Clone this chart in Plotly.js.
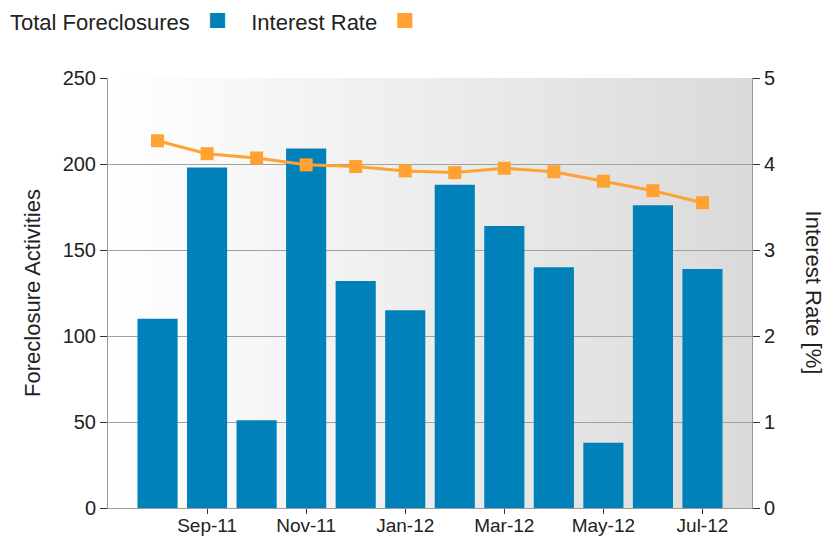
<!DOCTYPE html>
<html>
<head>
<meta charset="utf-8">
<script src="https://cdn.plot.ly/plotly-3.0.1.min.js"></script>
<style>html,body{margin:0;padding:0;background:#fff;}#chart{width:830px;height:540px;}</style>
</head>
<body>
<div id="chart"></div>
<script>
const months = ['Aug-11','Sep-11','Oct-11','Nov-11','Dec-11','Jan-12','Feb-12','Mar-12','Apr-12','May-12','Jun-12','Jul-12'];
const foreclosures = [110, 198, 51, 209, 132, 115, 188, 164, 140, 38, 176, 139];
const interestRate = [4.27, 4.12, 4.07, 3.99, 3.97, 3.92, 3.90, 3.95, 3.91, 3.80, 3.69, 3.55];
const xTickLabels = ['Sep-11','Nov-11','Jan-12','Mar-12','May-12','Jul-12'];

const BLUE = '#0081b9';
const ORANGE = '#ffa232';
const FONT = 'Liberation Sans, Arial, sans-serif';

const gradSvg = '<svg xmlns="http://www.w3.org/2000/svg" width="100" height="100" preserveAspectRatio="none"><defs><linearGradient id="g" x1="0" y1="0" x2="1" y2="0"><stop offset="0" stop-color="#ffffff"/><stop offset="1" stop-color="#dadada"/></linearGradient></defs><rect width="100" height="100" fill="url(#g)"/></svg>';
const gradUri = 'data:image/svg+xml;base64,' + btoa(gradSvg);

const traces = [
  {
    type: 'bar', name: 'Total Foreclosures', x: months, y: foreclosures,
    marker: {color: BLUE}, yaxis: 'y', hoverinfo: 'x+y'
  },
  {
    type: 'scatter', mode: 'lines+markers', name: 'Interest Rate', x: months, y: interestRate,
    yaxis: 'y2', line: {color: ORANGE, width: 3},
    marker: {symbol: 'square', size: 13, color: ORANGE}
  }
];

const layout = {
  width: 830, height: 540,
  margin: {l: 108, r: 78, t: 78, b: 32},
  paper_bgcolor: '#ffffff',
  plot_bgcolor: 'rgba(0,0,0,0)',
  showlegend: false,
  bargap: 0.19,
  font: {family: FONT, size: 20, color: '#222'},
  images: [{
    source: gradUri, xref: 'paper', yref: 'paper', x: 0, y: 1, sizex: 1, sizey: 1,
    sizing: 'stretch', layer: 'below', xanchor: 'left', yanchor: 'top'
  }],
  xaxis: {
    type: 'category', range: [-1, 12],
    tickvals: xTickLabels, ticktext: xTickLabels,
    ticks: 'outside', ticklen: 5, tickcolor: '#333',
    ticklabelstandoff: -5,
    showline: true, linecolor: '#999', linewidth: 1,
    showgrid: false, zeroline: false,
    tickfont: {family: FONT, size: 19, color: '#222'}
  },
  yaxis: {
    range: [0, 250], tickvals: [0, 50, 100, 150, 200, 250],
    ticks: 'outside', ticklen: 7, tickcolor: '#333',
    showline: true, linecolor: '#999', linewidth: 1,
    showgrid: true, gridcolor: '#a0a0a0', gridwidth: 1, zeroline: false,
    tickfont: {family: FONT, size: 20, color: '#222'},
    title: {text: 'Foreclosure Activities', font: {family: FONT, size: 22, color: '#222'}, standoff: 15}
  },
  yaxis2: {
    overlaying: 'y', side: 'right', range: [0, 5], tickvals: [0, 1, 2, 3, 4, 5],
    ticks: 'outside', ticklen: 7, tickcolor: '#333',
    showline: true, linecolor: '#999', linewidth: 1,
    showgrid: false, zeroline: false,
    tickfont: {family: FONT, size: 20, color: '#222'}
  },
  annotations: [
    {
      xref: 'paper', yref: 'paper', x: 1.097, y: 0.5, xanchor: 'center', yanchor: 'middle',
      text: 'Interest Rate [%]', textangle: 90, showarrow: false,
      font: {family: FONT, size: 22, color: '#222'}
    },
    {
      xref: 'paper', yref: 'paper', x: -0.155, y: 1.135, xanchor: 'left', yanchor: 'middle',
      showarrow: false, font: {family: FONT, size: 22, color: '#222'},
      text: 'Total Foreclosures   <span style="color:' + BLUE + ';font-size:31px">■</span>    Interest Rate   <span style="color:' + ORANGE + ';font-size:31px">■</span>'
    }
  ]
};

Plotly.newPlot('chart', traces, layout, {displayModeBar: false, staticPlot: true});
</script>
</body>
</html>
